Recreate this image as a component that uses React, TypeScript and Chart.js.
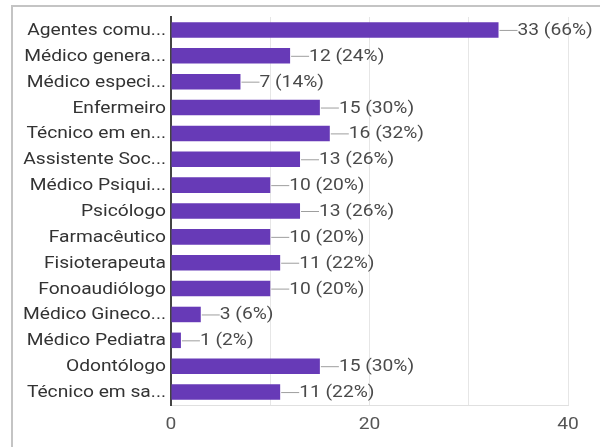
import React, { useEffect, useRef } from "react";
import { Chart, registerables } from "chart.js";

Chart.register(...registerables);

const categories = [
  "Agentes comu...",
  "Médico genera...",
  "Médico especi...",
  "Enfermeiro",
  "Técnico em en...",
  "Assistente Soc...",
  "Médico Psiqui...",
  "Psicólogo",
  "Farmacêutico",
  "Fisioterapeuta",
  "Fonoaudiólogo",
  "Médico Gineco...",
  "Médico Pediatra",
  "Odontólogo",
  "Técnico em sa...",
];
const counts = [33, 12, 7, 15, 16, 13, 10, 13, 10, 11, 10, 3, 1, 15, 11];
const percents = [66, 24, 14, 30, 32, 26, 20, 26, 20, 22, 20, 6, 2, 30, 22];
const xTickValues = [0, 20, 40];

const FONT = "Roboto, 'Noto Sans', sans-serif";
const STRETCH = 1.2;

function stretchedText(ctx: any, text: string, x: number, y: number, align: string) {
  ctx.save();
  ctx.translate(x, y);
  ctx.scale(STRETCH, 1);
  ctx.textAlign = align;
  ctx.fillText(text, 0, 0);
  ctx.restore();
}

const textPlugin = {
  id: "textLabels",
  afterDraw(chart: any) {
    const ctx = chart.ctx;
    const meta = chart.getDatasetMeta(0);
    const xScale = chart.scales.x;
    const yScale = chart.scales.y;
    ctx.save();
    ctx.font = `16px ${FONT}`;
    ctx.textBaseline = "middle";

    // category labels
    ctx.fillStyle = "#333333";
    categories.forEach((c, i) => {
      const y = yScale.getPixelForTick(i);
      stretchedText(ctx, c, yScale.right - 5, y + 1, "right");
    });

    // x tick labels
    ctx.fillStyle = "#555555";
    xTickValues.forEach((v) => {
      const x = xScale.getPixelForValue(v);
      stretchedText(ctx, String(v), x, xScale.top + 20, "center");
    });

    // value labels
    meta.data.forEach((bar: any, i: number) => {
      const x = bar.x;
      const y = bar.y;
      ctx.strokeStyle = "#9e9e9e";
      ctx.lineWidth = 1;
      ctx.beginPath();
      ctx.moveTo(x + 1, y + 0.5);
      ctx.lineTo(x + 19, y + 0.5);
      ctx.stroke();
      ctx.fillStyle = "#4a4a4a";
      stretchedText(ctx, `${counts[i]} (${percents[i]}%)`, x + 19, y + 1, "left");
    });
    ctx.restore();
  },
};

export default function App() {
  const canvasRef = useRef<HTMLCanvasElement | null>(null);

  useEffect(() => {
    document.body.style.margin = "0";
    const canvas = canvasRef.current;
    if (!canvas) return;
    const chart = new Chart(canvas, {
      type: "bar",
      data: {
        labels: categories,
        datasets: [
          {
            data: counts,
            backgroundColor: "#673AB7",
            borderWidth: 0,
            barPercentage: 0.6,
            categoryPercentage: 1,
          },
        ],
      },
      options: {
        indexAxis: "y",
        animation: false,
        responsive: false,
        maintainAspectRatio: false,
        layout: { padding: { left: 0, top: 17, right: 32, bottom: 0 } },
        plugins: {
          legend: { display: false },
          tooltip: { enabled: false },
        },
        scales: {
          x: {
            min: 0,
            max: 40,
            ticks: { stepSize: 10, display: false },
            grid: { color: "#e6e6e6", drawTicks: false, lineWidth: 1 },
            border: { display: true, color: "#e0e0e0", width: 1 },
            afterFit: (scale: any) => {
              scale.height = 42;
            },
          },
          y: {
            ticks: { display: false, autoSkip: false },
            grid: { display: false, drawTicks: false },
            border: { display: true, color: "#444444", width: 2 },
            afterFit: (scale: any) => {
              scale.width = 171;
            },
          },
        },
      },
      plugins: [textPlugin],
    });
    return () => chart.destroy();
  }, []);

  return (
    <div style={{ position: "absolute", left: 0, top: 0, width: 600, height: 447, background: "#fff" }}>
      <div
        style={{
          position: "absolute",
          left: 11,
          top: 5,
          width: 600,
          height: 460,
          borderLeft: "2px solid #c4c4c4",
          borderTop: "2px solid #c4c4c4",
        }}
      />
      <canvas
        ref={canvasRef}
        width={600}
        height={447}
        style={{ position: "absolute", left: 0, top: 0, width: 600, height: 447 }}
      />
    </div>
  );
}
